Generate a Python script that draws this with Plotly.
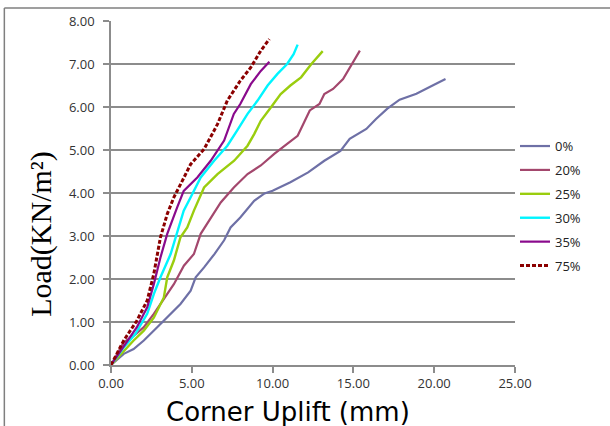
import plotly.graph_objects as go

# Corner uplift (mm) and load (kN/m2)
x_0 = [0, 0.4, 0.79, 1.4, 2.03, 2.86, 3.69, 4.3, 4.93, 5.24, 5.76, 6.4, 7.0, 7.4, 8.0, 8.45, 8.86, 9.5, 10.0,
       11.1, 12.2, 13.2, 14.2, 14.77, 15.8, 16.4, 17.1, 17.86, 18.9, 19.9, 20.7]
y_0 = [0, 0.14, 0.26, 0.37, 0.57, 0.88, 1.19, 1.42, 1.73, 2.04, 2.27, 2.58, 2.9, 3.2, 3.43, 3.63, 3.82, 3.99, 4.05,
       4.25, 4.48, 4.75, 4.98, 5.26, 5.49, 5.72, 5.96, 6.17, 6.31, 6.5, 6.65]

x_20 = [0, 0.4, 0.79, 1.4, 2.03, 2.65, 3.27, 3.89, 4.51, 5.13, 5.55, 6.17, 6.79, 7.6, 8.45, 9.27, 10.1, 10.9,
        11.55, 12.3, 12.9, 13.2, 13.74, 14.36, 14.9, 15.4]
y_20 = [0, 0.26, 0.53, 0.68, 0.88, 1.19, 1.53, 1.88, 2.31, 2.58, 3.05, 3.43, 3.78, 4.13, 4.44, 4.64, 4.91, 5.14,
        5.33, 5.92, 6.07, 6.3, 6.42, 6.65, 7.0, 7.31]

x_25 = [0, 0.79, 1.4, 2.03, 2.65, 3.27, 3.48, 3.89, 4.3, 4.72, 5.13, 5.76, 6.59, 7.62, 8.45, 8.86, 9.27, 9.89,
        10.5, 11.1, 11.76, 12.4, 13.1]
y_25 = [0, 0.33, 0.57, 0.8, 1.1, 1.57, 2.04, 2.43, 2.97, 3.2, 3.59, 4.13, 4.44, 4.75, 5.1, 5.37, 5.68, 5.99,
        6.3, 6.5, 6.69, 7.0, 7.3]

x_30 = [0, 0.79, 1.5, 2.24, 2.65, 3.06, 3.69, 4.1, 4.5, 4.93, 5.55, 6.38, 7.2, 7.8, 8.45, 9.07, 9.69, 10.3,
        10.9, 11.3, 11.55]
y_30 = [0, 0.41, 0.72, 1.19, 1.65, 2.04, 2.58, 3.12, 3.59, 3.9, 4.36, 4.75, 5.1, 5.45, 5.84, 6.15, 6.5, 6.77,
        7.0, 7.23, 7.45]

x_35 = [0, 0.79, 1.6, 2.24, 2.65, 3.06, 3.48, 4.1, 4.5, 5.34, 6.17, 7.0, 7.6, 8.0, 8.65, 9.27, 9.8]
y_35 = [0, 0.45, 0.88, 1.34, 1.88, 2.5, 3.05, 3.67, 4.05, 4.36, 4.75, 5.22, 5.84, 6.07, 6.53, 6.84, 7.05]

x_75 = [0, 0.79, 1.6, 2.24, 2.65, 3.06, 3.48, 3.89, 4.3, 4.93, 5.76, 6.59, 7.2, 8.0, 8.65, 9.27, 9.8]
y_75 = [0, 0.57, 1.03, 1.5, 2.12, 2.97, 3.51, 3.9, 4.2, 4.67, 5.02, 5.6, 6.15, 6.61, 6.92, 7.31, 7.58]

series_names = ["0%", "20%", "25%", "30%", "35%", "75%"]
series_x = [x_0, x_20, x_25, x_30, x_35, x_75]
series_y = [y_0, y_20, y_25, y_30, y_35, y_75]
colors = ["#6E70A6", "#A3476D", "#9ACD0E", "#00F5FF", "#8A0A8C", "#8B0000"]
dashes = ["solid", "solid", "solid", "solid", "solid", "4px,2px"]
widths = [2.2, 2.2, 2.4, 2.4, 2.2, 3]

x_ticks = [0, 5, 10, 15, 20, 25]
y_ticks = [0, 1, 2, 3, 4, 5, 6, 7, 8]

fig = go.Figure()
for name, xs, ys, c, d, w in zip(series_names, series_x, series_y, colors, dashes, widths):
    fig.add_trace(go.Scatter(x=xs, y=ys, mode="lines", name=name, legendgroup=name,
                             line=dict(color=c, width=w, dash=d)))

tick_font = dict(family="Open Sans", size=13, color="#333333")
grid_c = "#8C8C8C"

fig.update_layout(
    width=610, height=426,
    margin=dict(l=111, r=95, t=21, b=61),
    paper_bgcolor="white", plot_bgcolor="white",
    showlegend=True,
    legend=dict(x=1.0, y=0.68, xanchor="left", yanchor="top",
                font=dict(family="Open Sans", size=13, color="#222222"),
                bgcolor="rgba(0,0,0,0)", tracegroupgap=4, itemwidth=30),
    xaxis=dict(range=[0, 25], tickvals=x_ticks, ticktext=[f"{v:.2f}" for v in x_ticks],
               showgrid=False, zeroline=False, showline=True, linecolor=grid_c, linewidth=1.5,
               ticks="outside", ticklen=6, tickcolor=grid_c, tickwidth=1.5, tickfont=tick_font),
    yaxis=dict(range=[0, 8], tickvals=y_ticks, ticktext=[f"{v:.2f}" for v in y_ticks],
               showgrid=True, gridcolor=grid_c, gridwidth=1.5, zeroline=False,
               showline=True, linecolor=grid_c, linewidth=1.5,
               ticks="outside", ticklen=6, tickcolor=grid_c, tickwidth=1.5, tickfont=tick_font,
               ticklabelstandoff=6),
    annotations=[
        dict(text="Corner Uplift (mm)", xref="paper", yref="paper", x=0.437, y=-0.086,
             xanchor="center", yanchor="top", showarrow=False,
             font=dict(family="DejaVu Sans", size=26, color="black")),
        dict(text="Load(KN/m²)", xref="paper", yref="paper", x=-0.172, y=0.38,
             xanchor="center", yanchor="middle", showarrow=False, textangle=-90,
             font=dict(family="Liberation Serif", size=30, color="black")),
    ],
    shapes=[
        dict(type="line", xref="paper", yref="paper", x0=-0.264, x1=1.3, y0=1.038, y1=1.038,
             line=dict(color="#7F7F7F", width=1.5)),
        dict(type="line", xref="paper", yref="paper", x0=-0.264, x1=-0.264, y0=1.038, y1=-0.3,
             line=dict(color="#7F7F7F", width=1.5)),
    ],
)

fig.write_html("out.html")
